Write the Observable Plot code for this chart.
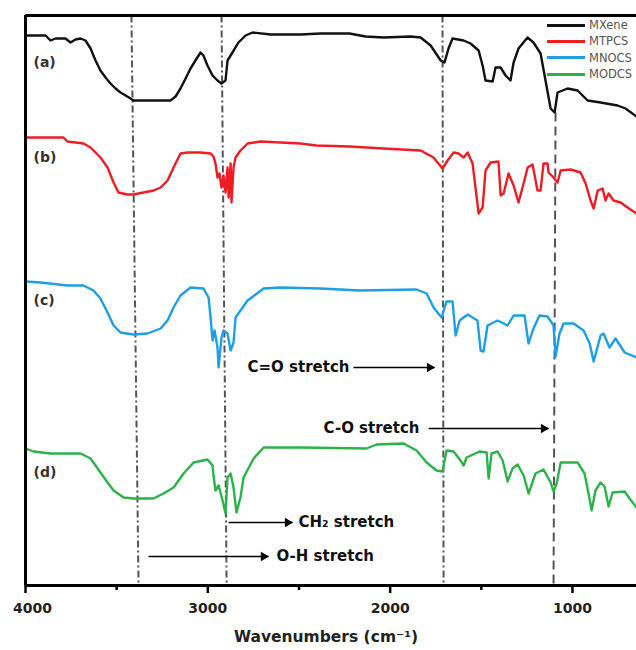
<!DOCTYPE html>
<html><head><meta charset="utf-8">
<script src="https://cdn.jsdelivr.net/npm/d3@7"></script>
<script src="https://cdn.jsdelivr.net/npm/@observablehq/plot@0.6"></script>
<style>
html,body{margin:0;padding:0;background:#fff;overflow:hidden;}
#wrap{position:relative;width:636px;height:650px;overflow:hidden;}
#legend{position:absolute;left:547px;top:17px;font-family:"DejaVu Sans",sans-serif;font-size:11.5px;color:#555;}
.row{display:flex;align-items:center;height:16.3px;white-space:nowrap;}
.sw{width:38px;height:3px;margin-right:4px;flex:none;}
</style></head>
<body><div id="wrap"><div id="legend"></div></div>
<script>
// ---- data (wavenumber cm-1, offset transmittance a.u.) ----
const seriesNames = ["MXene", "MTPCS", "MNOCS", "MODCS"];
const seriesColors = ["#111111", "#f01c24", "#1d9ee6", "#2bb34a"];
const panelLabels = ["(a)", "(b)", "(c)", "(d)"];
const panelLabelT = [523, 428, 285, 113];

const mxene = [[4000,550],[3890,550],[3863,545],[3835,547],[3781,547],[3753,543],[3726,546],[3698,547],[3671,545],[3643,537],[3616,525],[3589,515],[3561,508],[3534,502],[3506,497],[3479,493],[3451,490],[3424,487],[3408,485],[3205,485],[3177,489],[3150,497],[3122,507],[3095,517],[3068,525],[3040,533],[3024,530],[3002,520],[2974,510],[2947,505],[2925,502],[2903,505],[2892,525],[2865,533],[2832,543],[2793,550],[2755,553],[2656,551],[2492,551],[2382,552],[2223,552],[2135,549],[2036,548],[1888,549],[1833,548],[1778,540],[1723,525],[1702,523],[1680,537],[1658,547],[1597,545],[1559,542],[1515,535],[1493,520],[1477,505],[1438,504],[1422,518],[1394,518],[1367,510],[1340,505],[1323,523],[1296,537],[1247,548],[1214,543],[1175,532],[1148,505],[1120,477],[1098,473],[1082,493],[1027,497],[972,495],[917,485],[846,483],[753,480],[709,477],[649,469]];

const mtpcs = [[4000,448],[3792,448],[3770,444],[3682,442],[3643,438],[3589,428],[3550,418],[3517,403],[3490,393],[3440,391],[3408,391],[3353,393],[3298,395],[3259,398],[3221,405],[3188,418],[3150,432],[3111,433],[3040,433],[2985,432],[2969,429],[2958,422],[2947,408],[2936,412],[2925,398],[2914,410],[2903,393],[2892,418],[2886,388],[2875,422],[2870,383],[2859,418],[2848,428],[2821,435],[2782,442],[2711,444],[2601,443],[2492,442],[2404,440],[2223,439],[2036,437],[1833,435],[1762,428],[1713,417],[1685,425],[1652,433],[1625,432],[1597,428],[1575,433],[1548,422],[1532,398],[1515,372],[1493,378],[1477,415],[1449,423],[1406,424],[1394,390],[1378,392],[1351,412],[1323,400],[1296,383],[1274,398],[1246,418],[1219,421],[1192,395],[1175,395],[1159,422],[1137,422],[1131,413],[1104,408],[1082,403],[1065,415],[1010,416],[956,413],[928,402],[901,385],[884,377],[862,395],[835,397],[819,385],[802,392],[775,385],[736,383],[698,378],[649,372]];

const mnocs = [[4000,304],[3918,303],[3770,300],[3682,300],[3627,295],[3589,287],[3550,273],[3517,260],[3479,253],[3408,251],[3331,252],[3259,257],[3221,265],[3188,278],[3150,290],[3095,298],[3024,297],[2996,288],[2985,268],[2974,245],[2963,255],[2947,238],[2941,218],[2925,248],[2914,255],[2892,252],[2875,235],[2859,243],[2848,268],[2782,285],[2694,297],[2601,298],[2382,297],[2168,295],[1855,296],[1800,292],[1762,278],[1718,268],[1691,284],[1658,284],[1641,250],[1619,265],[1575,271],[1521,265],[1504,235],[1488,234],[1466,260],[1411,265],[1356,260],[1323,270],[1263,270],[1241,242],[1214,257],[1181,270],[1137,269],[1104,260],[1093,229],[1071,252],[1049,262],[994,262],[939,255],[906,242],[884,224],[846,250],[830,252],[797,238],[764,247],[714,233],[649,228]];

const modcs = [[4000,137],[3956,134],[3863,132],[3698,132],[3643,127],[3589,113],[3550,103],[3517,95],[3462,88],[3408,87],[3298,87],[3243,92],[3188,98],[3133,112],[3078,123],[3002,126],[2974,120],[2969,110],[2958,95],[2941,100],[2919,85],[2903,72],[2892,108],[2875,112],[2859,98],[2843,73],[2821,88],[2804,108],[2749,127],[2694,138],[2492,138],[2130,137],[2075,141],[1926,142],[1855,135],[1800,123],[1745,115],[1713,114],[1691,135],[1652,134],[1614,125],[1597,120],[1581,128],[1510,134],[1471,133],[1460,107],[1444,132],[1411,134],[1383,125],[1356,104],[1329,117],[1301,121],[1268,110],[1241,92],[1203,112],[1159,116],[1120,103],[1104,94],[1087,102],[1065,123],[972,123],[934,112],[912,92],[895,75],[874,95],[846,103],[824,99],[802,79],[780,93],[714,94],[687,87],[649,78]];

const majorTicks = [4000, 3000, 2000, 1000];
const minorTicks = [3500, 2500, 1500];

// band marker guides: wavenumber at top and bottom of each guide, top level
const bandTopWn = [3419, 2925, 1713, 1093];
const bandBottomWn = [3380, 2897, 1707, 1104];
const bandTopT = [570, 570, 570, 473];
const bandDashDot = [true, true, true, false];

// annotations
const annText = ["C=O stretch", "C-O stretch", "CH\u2082 stretch", "O-H stretch"];
const annTextWn = [2223, 1839, 2503, 2623];
const annAnchor = ["end", "end", "start", "start"];
const annFromWn = [2201, 1789, 2886, 3325];
const annToWn = [1756, 1131, 2535, 2667];
const annT = [218, 157, 63, 29];

// ---- build ----
const allSeries = [mxene, mtpcs, mnocs, modcs];
const lineData = allSeries.flatMap((s, i) => s.map(([wn, t]) => ({wn, t, name: seriesNames[i]})));
const bands = bandTopWn.map((w, i) => ({x1: w, x2: bandBottomWn[i], y1: bandTopT[i], y2: 0, dd: bandDashDot[i]}));
const anns = annText.map((t, i) => ({text: t, tx: annTextWn[i], anchor: annAnchor[i], x1: annFromWn[i], x2: annToWn[i], y: annT[i]}));
const labels = panelLabels.map((l, i) => ({l, t: panelLabelT[i]}));

const font = "'DejaVu Sans', sans-serif";
const txt = {fontWeight: "bold", fontSize: 15, fill: "#111"};
const tickTxt = {frameAnchor: "bottom", dy: 27, fontWeight: "bold", fontSize: 14, fill: "#222", text: d => String(d)};

const chart = Plot.plot({
  width: 636,
  height: 650,
  marginLeft: 25,
  marginRight: 0,
  marginTop: 15,
  marginBottom: 65,
  style: {fontFamily: font, background: "transparent", overflow: "visible"},
  x: {domain: [4000, 649]},
  y: {domain: [0, 570], axis: null},
  color: {domain: seriesNames, range: seriesColors},
  marks: [
    Plot.link(bands.filter(d => d.dd), {x1: "x1", x2: "x2", y1: "y1", y2: "y2", stroke: "#555", strokeWidth: 2, strokeDasharray: "7,3,2,3"}),
    Plot.link(bands.filter(d => !d.dd), {x1: "x1", x2: "x2", y1: "y1", y2: "y2", stroke: "#555", strokeWidth: 2, strokeDasharray: "9,5"}),
    Plot.line(lineData, {x: "wn", y: "t", z: "name", stroke: "name", strokeWidth: 2.4, strokeLinejoin: "round"}),
    Plot.text(labels, {x: 3956, y: "t", text: "l", textAnchor: "start", fontWeight: "bold", fontSize: 14, fill: "#333"}),
    Plot.link(anns, {x1: "x1", x2: "x2", y1: "y", y2: "y", stroke: "#000", strokeWidth: 1.5}),
    Plot.dot(anns, {x: "x2", y: "y", symbol: "triangle", rotate: 90, r: 3.5, fill: "#000", stroke: null, dx: -5}),
    Plot.text(anns.filter(d => d.anchor === "end"), {x: "tx", y: "y", text: "text", textAnchor: "end", ...txt}),
    Plot.text(anns.filter(d => d.anchor === "start"), {x: "tx", y: "y", text: "text", textAnchor: "start", ...txt}),
    Plot.ruleX([4000], {stroke: "#000", strokeWidth: 3}),
    Plot.ruleY([0], {stroke: "#000", strokeWidth: 3}),
    Plot.ruleY([570], {stroke: "#000", strokeWidth: 3}),
    Plot.axisX({ticks: majorTicks, anchor: "bottom", tickSize: 8, strokeWidth: 2.5, label: null, tickFormat: () => ""}),
    Plot.axisX({ticks: minorTicks, anchor: "bottom", tickSize: 5, strokeWidth: 2.5, label: null, tickFormat: () => ""}),
    Plot.text(majorTicks.slice(0, 1), {x: d => d, dx: 7, ...tickTxt}),
    Plot.text(majorTicks.slice(1), {x: d => d, ...tickTxt}),
    Plot.text(["Wavenumbers (cm\u207B\u00B9)"], {frameAnchor: "bottom", dy: 56, dx: -5, fontWeight: "bold", fontSize: 15.5, fill: "#222"})
  ]
});
document.getElementById("wrap").prepend(chart);

const legend = document.getElementById("legend");
seriesNames.forEach((n, i) => {
  const row = document.createElement("div");
  row.className = "row";
  const sw = document.createElement("div");
  sw.className = "sw";
  sw.style.background = seriesColors[i];
  const tx = document.createElement("span");
  tx.textContent = n;
  row.append(sw, tx);
  legend.append(row);
});
</script>
</body></html>
